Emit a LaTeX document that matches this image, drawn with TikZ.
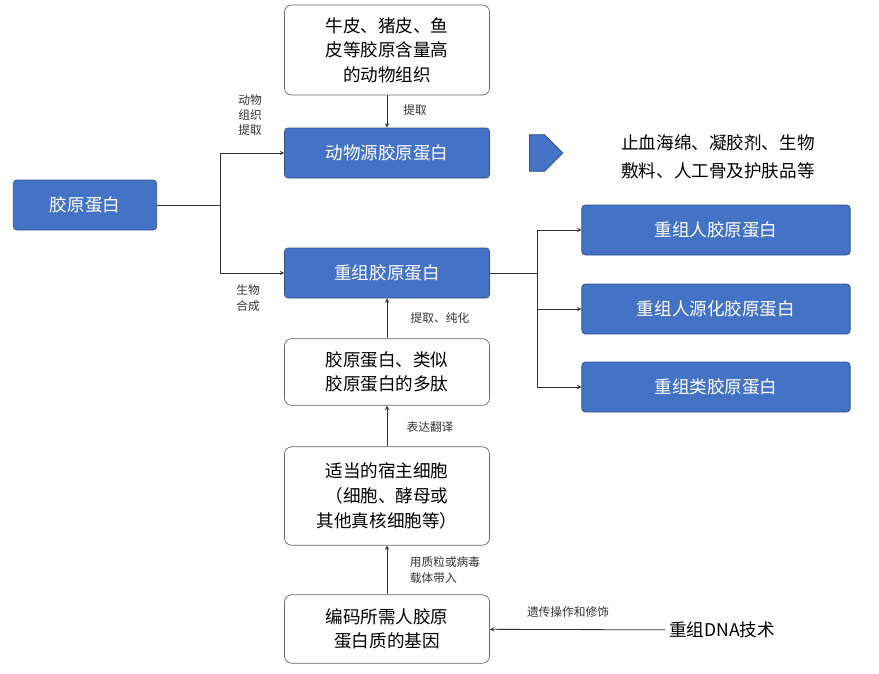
\documentclass[tikz,border=0pt]{standalone}
\usepackage{fontspec}
\newfontfamily\cjk{Noto Sans CJK SC}
\usetikzlibrary{shapes.arrows}
\definecolor{boxblue}{HTML}{4472C4}
\definecolor{boxedge}{HTML}{2F528F}
\begin{document}
\begin{tikzpicture}[x=0.03cm,y=-0.03cm,style=thick]
\tikzstyle{every node}=[font=\cjk]
\tikzstyle{bluebox}=[draw=boxedge, fill=boxblue, text=white, rounded corners=3pt, minimum height=1.5cm, font=\cjk\fontsize{15}{18}\selectfont, line width=0.6pt]
\tikzstyle{whitebox}=[draw=gray!80!black, fill=white, rounded corners=6pt, align=center, minimum width=6.15cm, font=\cjk\fontsize{15}{21}\selectfont, line width=0.6pt]
\tikzstyle{lbl}=[font=\cjk\fontsize{10}{13}\selectfont, align=center, text=black!80]
\tikzstyle{link}=[->, >=stealth, gray!40!black, line width=0.7pt]

\useasboundingbox (0,0) rectangle (879,673);

\node[bluebox, minimum width=4.3cm] (JY) at (85,205) {胶原蛋白};
\node[whitebox, minimum height=2.7cm] (NP) at (387,50) {牛皮、猪皮、鱼\\皮等胶原含量高\\的动物组织};
\node[bluebox, minimum width=6.15cm] (DW) at (387,153) {动物源胶原蛋白};
\node[single arrow, fill=boxblue, draw=boxedge, line width=0.6pt, minimum width=1.1cm, single arrow head extend=0pt, minimum height=1cm, inner sep=0pt] (AR) at (537,153) {};
\node[font=\cjk\fontsize{15}{24}\selectfont, align=left] (YT) at (718,157) {止血海绵、凝胶剂、生物\\敷料、人工骨及护肤品等};
\node[bluebox, minimum width=6.15cm] (CZ) at (387,273) {重组胶原蛋白};
\node[bluebox, minimum width=8.05cm] (R1) at (716,230) {重组人胶原蛋白};
\node[bluebox, minimum width=8.05cm] (R2) at (716,309) {重组人源化胶原蛋白};
\node[bluebox, minimum width=8.05cm] (R3) at (716,387) {重组类胶原蛋白};
\node[whitebox, minimum height=2cm] (DT) at (387,372) {胶原蛋白、类似\\胶原蛋白的多肽};
\node[whitebox, minimum height=2.95cm] (SZ) at (387,496) {适当的宿主细胞\\（细胞、酵母或\\其他真核细胞等）};
\node[whitebox, minimum height=2.05cm] (JD) at (387,629) {编码所需人胶原\\蛋白质的基因};
\node[font=\cjk\fontsize{15}{18}\selectfont] (DNA) at (722,630) {重组DNA技术};

\coordinate (J0) at (220,205);
\coordinate (C0) at (537,273);
\draw[link] (JY.east) -- (J0) |- (DW.west);
\draw[link] (J0) |- (CZ.west);
\draw[link] (NP) -- (DW);
\draw[link] (CZ.east) -- (C0) |- (R1.west);
\draw[link] (C0) |- (R2.west);
\draw[link] (C0) |- (R3.west);
\draw[link] (DT) -- (CZ);
\draw[link] (SZ) -- (DT);
\draw[link] (JD) -- (SZ);
\draw[link] (DNA) -- (JD);

\node[lbl] (L1) at (250,115) {动物\\组织\\提取};
\node[lbl] (L2) at (248,298) {生物\\合成};
\node[lbl] (L3) at (415,110) {提取};
\node[lbl] (L4) at (440,318) {提取、纯化};
\node[lbl] (L5) at (430,427) {表达翻译};
\node[lbl, align=left] (L6) at (445,570) {用质粒或病毒\\载体带入};
\node[lbl] (L7) at (568,612) {遗传操作和修饰};
\end{tikzpicture}
\end{document}
